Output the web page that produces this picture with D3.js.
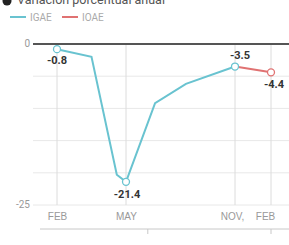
<!DOCTYPE html>
<html>
<head>
<meta charset="utf-8">
<script src="https://cdn.jsdelivr.net/npm/d3@7"></script>
<style>
body { margin:0; background:#fff; font-family:Roboto, "Noto Sans", sans-serif; }
.title { font-size:12.5px; fill:#555; }
.legend { font-size:10px; fill:#aaa; }
.tick-label { font-size:10px; fill:#999; }
.value { font-size:11px; font-weight:bold; fill:#333; }
</style>
</head>
<body>
<div id="chart"><svg></svg></div>
<script>
// meses como posicion (2 = feb 2020, 14 = feb 2021)
var igaeMes = [2, 3.5, 4.6, 5, 6.6, 8.3, 11]
var igaeVal = [-0.8, -2.0, -20.3, -21.4, -9.2, -6.2, -3.5]
var ioaeMes = [11, 14]
var ioaeVal = [-3.5, -4.4]
var xTickMes = [2, 5, 11, 14]
var xTickLabels = ["FEB", "MAY", "NOV,", "FEB"]
var yTicks = [0, -5, -10, -15, -20, -25]
var yTickLabels = ["0", "-25"]
var yearMes = [6.2, 14]
var yearLabels = ["2020", "2021"]
var etiquetas = [
    {serie:"igae", i:0, dx:0, dy:15},
    {serie:"igae", i:3, dx:1, dy:16},
    {serie:"igae", i:6, dx:5, dy:-8},
    {serie:"ioae", i:1, dx:3, dy:16}
]

var screen = {width:289, height:245}
var margins = {left:33, right:0, top:44, bottom:16}

var svg = d3.select("#chart svg")
    .attr("width", screen.width)
    .attr("height", screen.height)

var xScale = d3.scaleLinear()
    .domain(xTickMes)
    .range([57, 126, 235, 271])

var yScale = d3.scaleLinear()
    .domain([0, -25])
    .range([margins.top, 205])

var drawTop = function()
{
    svg.append("circle")
    .attr("cx", 7).attr("cy", 1).attr("r", 4.5)
    .attr("fill", "#222")
    svg.append("text")
    .classed("title", true)
    .attr("x", 17).attr("y", 4)
    .text("Variación porcentual anual")

    var items = [{name:"IGAE", color:"#69c3d0", x:10}, {name:"IOAE", color:"#e07272", x:62}]
    items.forEach(function(d)
    {
        svg.append("line")
        .attr("x1", d.x).attr("x2", d.x+16)
        .attr("y1", 17).attr("y2", 17)
        .attr("stroke", d.color).attr("stroke-width", 2)
        svg.append("text")
        .classed("legend", true)
        .attr("x", d.x+20).attr("y", 20.5)
        .text(d.name)
    })
}

var drawGrid = function()
{
    svg.append("g")
    .selectAll("line")
    .data(yTicks.slice(1))
    .enter()
    .append("line")
    .attr("x1", margins.left).attr("x2", screen.width)
    .attr("y1", function(d) { return yScale(d) })
    .attr("y2", function(d) { return yScale(d) })
    .attr("stroke", "#e8e8e8")

    svg.append("g")
    .selectAll("line")
    .data(xTickMes)
    .enter()
    .append("line")
    .attr("x1", function(d) { return xScale(d) })
    .attr("x2", function(d) { return xScale(d) })
    .attr("y1", yScale(0)).attr("y2", yScale(-25))
    .attr("stroke", "#dcdcdc")

    svg.append("line")
    .attr("x1", margins.left).attr("x2", screen.width)
    .attr("y1", yScale(0)).attr("y2", yScale(0))
    .attr("stroke", "#555").attr("stroke-width", 2)

    svg.append("g")
    .selectAll("text")
    .data(yTickLabels)
    .enter()
    .append("text")
    .classed("tick-label", true)
    .attr("text-anchor", "end")
    .attr("x", 30)
    .attr("y", function(d) { return yScale(+d) + 3 })
    .text(function(d) { return d })

    var xAxis = d3.axisBottom(xScale)
        .tickValues(xTickMes)
        .tickSize(0)
        .tickFormat(function(d, i) { return xTickLabels[i] })
    var gx = svg.append("g")
        .attr("transform", "translate(0,210)")
        .call(xAxis)
    gx.select(".domain").remove()
    gx.selectAll("text")
    .classed("tick-label", true)
    .attr("font-family", null).attr("font-size", null).attr("fill", null)
    .attr("dx", function(d, i) { return i == 2 ? -3 : (i == 3 ? -6 : 0) })

    svg.append("line")
    .attr("x1", 40).attr("x2", screen.width)
    .attr("y1", 229).attr("y2", 229)
    .attr("stroke", "#c8c8c8")

    var years = svg.append("g")
    years.selectAll("line")
    .data(yearMes)
    .enter()
    .append("line")
    .attr("x1", function(d) { return xScale(d) })
    .attr("x2", function(d) { return xScale(d) })
    .attr("y1", 229).attr("y2", 234)
    .attr("stroke", "#c8c8c8")
    years.selectAll("text")
    .data(yearLabels)
    .enter()
    .append("text")
    .classed("tick-label", true)
    .attr("text-anchor", "middle")
    .attr("x", function(d, i) { return xScale(yearMes[i]) })
    .attr("y", 253)
    .text(function(d) { return d })
}

var drawSerie = function(mes, val, color)
{
    var pts = mes.map(function(m, i) { return {m:m, v:val[i]} })
    var line = d3.line()
        .x(function(d) { return xScale(d.m) })
        .y(function(d) { return yScale(d.v) })
    svg.append("path")
    .datum(pts)
    .attr("d", line)
    .attr("fill", "none")
    .attr("stroke", color)
    .attr("stroke-width", 2)
}

var drawMarks = function(mes, val, idx, color)
{
    svg.append("g")
    .selectAll("circle")
    .data(idx)
    .enter()
    .append("circle")
    .attr("cx", function(i) { return xScale(mes[i]) })
    .attr("cy", function(i) { return yScale(val[i]) })
    .attr("r", 3.5)
    .attr("fill", "#fff")
    .attr("stroke", color)
    .attr("stroke-width", 1.3)
}

var drawValues = function()
{
    svg.append("g")
    .selectAll("text")
    .data(etiquetas)
    .enter()
    .append("text")
    .classed("value", true)
    .attr("text-anchor", "middle")
    .attr("x", function(d) { var m = d.serie == "igae" ? igaeMes : ioaeMes; return xScale(m[d.i]) + d.dx })
    .attr("y", function(d) { var v = d.serie == "igae" ? igaeVal : ioaeVal; return yScale(v[d.i]) + d.dy })
    .text(function(d) { var v = d.serie == "igae" ? igaeVal : ioaeVal; return v[d.i].toFixed(1) })
}

drawTop()
drawGrid()
drawSerie(ioaeMes, ioaeVal, "#e07272")
drawSerie(igaeMes, igaeVal, "#69c3d0")
drawMarks(igaeMes, igaeVal, [0, 3, 6], "#69c3d0")
drawMarks(ioaeMes, ioaeVal, [1], "#e07272")
drawValues()
</script>
</body>
</html>
